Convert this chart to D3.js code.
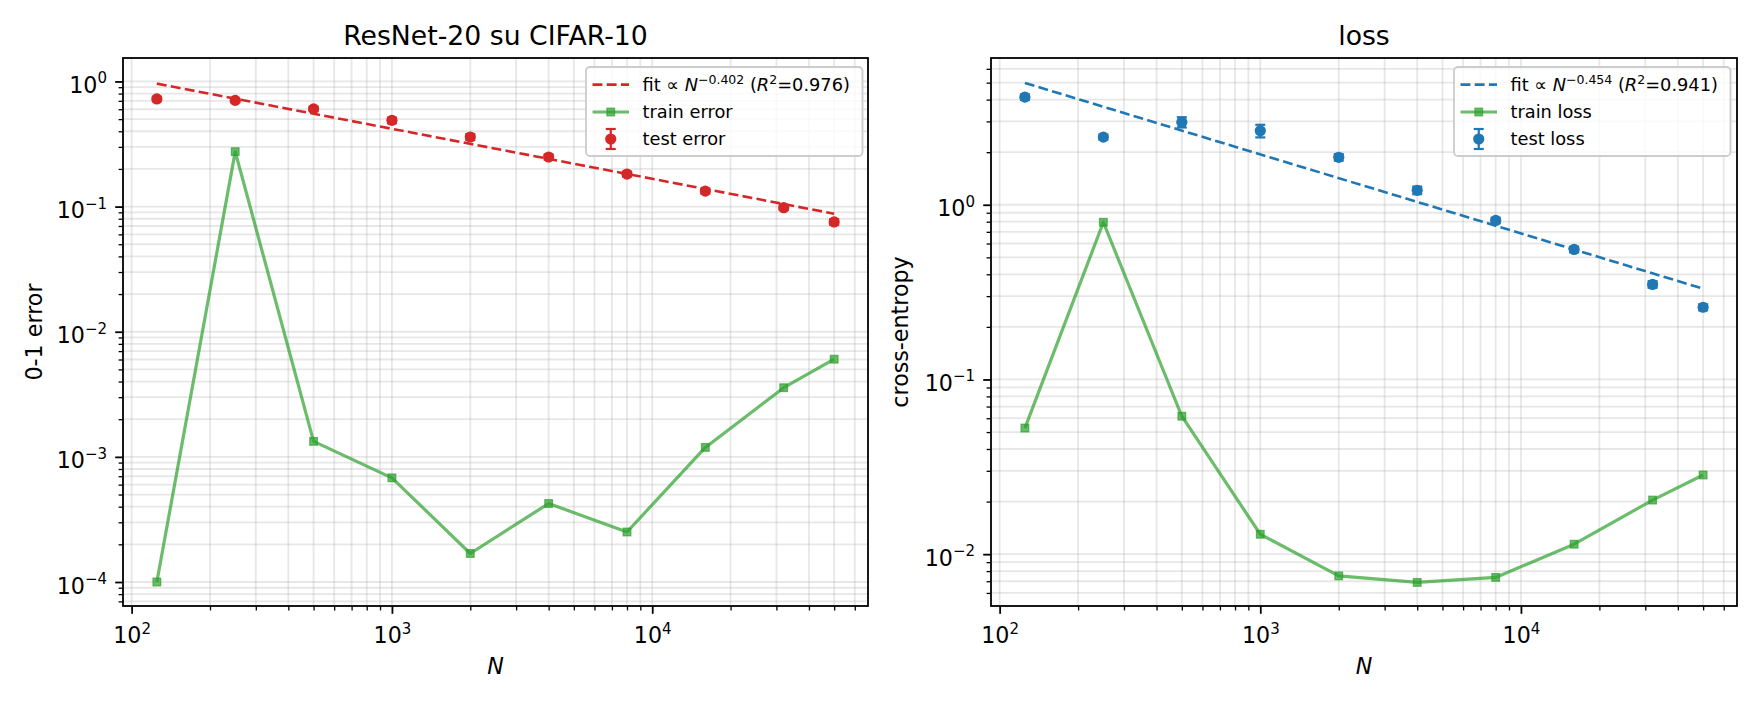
<!DOCTYPE html>
<html>
<head>
<meta charset="utf-8">
<script src="https://cdn.jsdelivr.net/npm/d3@7"></script>
<style>
  body { margin: 0; background: #fff; }
  text { font-family: "DejaVu Sans", sans-serif; fill: #000; }
</style>
</head>
<body>
<svg id="fig" width="1760" height="704"></svg>
<script>
// training set sizes (x values, shared by both panels)
var sizes = [125, 250, 500, 1000, 2000, 4000, 8000, 16000, 32000, 50000];

// left panel: 0-1 error
var testError   = [0.725, 0.706, 0.604, 0.489, 0.360, 0.249, 0.182, 0.133, 0.098, 0.0754];
var testErrorSe = [0.03, 0.02, 0.025, 0.025, 0.02, 0.012, 0.008, 0.006, 0.004, 0.004];
var trainError  = [1.0e-4, 0.275, 1.33e-3, 6.8e-4, 1.69e-4, 4.24e-4, 2.51e-4, 1.19e-3, 3.57e-3, 6.03e-3];
var errFitEnds  = [0.961, 0.0877];   // fit line at first / last N

// right panel: cross-entropy
var testLoss    = [4.13, 2.44, 2.97, 2.65, 1.87, 1.21, 0.813, 0.555, 0.350, 0.259];
var testLossSe  = [0.15, 0.08, 0.2, 0.22, 0.08, 0.06, 0.03, 0.02, 0.015, 0.01];
var trainLoss   = [0.0527, 0.794, 0.0616, 0.0130, 7.51e-3, 6.89e-3, 7.36e-3, 0.0114, 0.0204, 0.0284];
var lossFitEnds = [4.98, 0.331];

// axis ranges and tick labels
var xDomain     = [92.65, 67450];
var xTicks      = [100, 1000, 10000];
var errYDomain  = [6.43e-5, 1.54];
var errYTicks   = [1e-4, 1e-3, 1e-2, 1e-1, 1];
var lossYDomain = [5.05e-3, 6.92];
var lossYTicks  = [1e-2, 1e-1, 1];

var svg = d3.select('#fig');
var plotTop = 58, plotBottom = 606;
var FS = 22.2, SUP = 15, LFS = 17.8;
var green = '#2ca02c';

function expStr(v) {
  var e = Math.round(Math.log10(v));
  return (e < 0 ? '\u2212' : '') + Math.abs(e);
}

function powLabel(sel) {  // "10" with superscript exponent
  sel.text(null);
  sel.append('tspan').text('10');
  sel.append('tspan').attr('dy', -9.5).attr('font-size', SUP).text(function(d) { return expStr(d); });
}

var panels = [
  { left: 123, right: 868, yDomain: errYDomain, yTicks: errYTicks, title: 'ResNet-20 su CIFAR-10',
    ylabel: '0-1 error', ylabelX: 41.5, color: '#d62728', test: testError, testSe: testErrorSe,
    train: trainError, fit: errFitEnds, fitExp: '\u22120.402', r2: '0.976',
    trainLabel: 'train error', testLabel: 'test error', legendX: 586 },
  { left: 991, right: 1737, yDomain: lossYDomain, yTicks: lossYTicks, title: 'loss',
    ylabel: 'cross-entropy', ylabelX: 907.5, color: '#1f77b4', test: testLoss, testSe: testLossSe,
    train: trainLoss, fit: lossFitEnds, fitExp: '\u22120.454', r2: '0.941',
    trainLabel: 'train loss', testLabel: 'test loss', legendX: 1454 }
];

panels.forEach(function(p) {
  var x = d3.scaleLog().domain(xDomain).range([p.left, p.right]);
  var y = d3.scaleLog().domain(p.yDomain).range([plotBottom, plotTop]);
  var g = svg.append('g');

  // grid (major + minor)
  var xAll = x.ticks(), yAll = y.ticks();
  g.append('g').selectAll('line').data(xAll).join('line')
    .attr('x1', function(d) { return x(d); }).attr('x2', function(d) { return x(d); })
    .attr('y1', plotTop).attr('y2', plotBottom)
    .attr('stroke', '#b0b0b0').attr('stroke-opacity', 0.3).attr('stroke-width', 1.8);
  g.append('g').selectAll('line').data(yAll).join('line')
    .attr('y1', function(d) { return y(d); }).attr('y2', function(d) { return y(d); })
    .attr('x1', p.left).attr('x2', p.right)
    .attr('stroke', '#b0b0b0').attr('stroke-opacity', 0.3).attr('stroke-width', 1.8);

  // axes: minor ticks, then major ticks
  var isMajor = function(d) { return Math.abs(Math.log10(d) - Math.round(Math.log10(d))) < 1e-6; };
  var xMinor = xAll.filter(function(d) { return !isMajor(d); });
  var yMinor = yAll.filter(function(d) { return !isMajor(d); });

  var gx1 = g.append('g').attr('transform', 'translate(0,' + plotBottom + ')')
    .call(d3.axisBottom(x).tickValues(xMinor).tickSize(4.4).tickFormat(''));
  gx1.selectAll('line').attr('stroke-width', 1.3);
  var gx2 = g.append('g').attr('transform', 'translate(0,' + plotBottom + ')')
    .call(d3.axisBottom(x).tickValues(xTicks).tickSize(7.8).tickFormat(''));
  gx2.selectAll('line').attr('stroke-width', 1.8);
  gx2.selectAll('text').remove();
  gx2.selectAll('.tick').append('text')
    .attr('y', 37).attr('text-anchor', 'middle').attr('font-size', FS)
    .call(powLabel);

  var gy1 = g.append('g').attr('transform', 'translate(' + p.left + ',0)')
    .call(d3.axisLeft(y).tickValues(yMinor).tickSize(4.4).tickFormat(''));
  gy1.selectAll('line').attr('stroke-width', 1.3);
  var gy2 = g.append('g').attr('transform', 'translate(' + p.left + ',0)')
    .call(d3.axisLeft(y).tickValues(p.yTicks).tickSize(7.8).tickFormat(''));
  gy2.selectAll('line').attr('stroke-width', 1.8);
  gy2.selectAll('text').remove();
  gy2.selectAll('.tick').append('text')
    .attr('x', -16).attr('y', 11).attr('text-anchor', 'end').attr('font-size', FS)
    .call(powLabel);
  g.selectAll('.domain').remove();

  // fit line
  var line = d3.line().x(function(d) { return x(d[0]); }).y(function(d) { return y(d[1]); });
  var fitPts = [[sizes[0], p.fit[0]], [sizes[sizes.length - 1], p.fit[1]]];
  g.append('path').attr('d', line(fitPts)).attr('fill', 'none')
    .attr('stroke', p.color).attr('stroke-width', 2.6).attr('stroke-dasharray', '9.9,4.3');

  // train curve
  var trainPts = sizes.map(function(n, i) { return [n, p.train[i]]; });
  g.append('path').attr('d', line(trainPts)).attr('fill', 'none')
    .attr('stroke', green).attr('stroke-opacity', 0.7).attr('stroke-width', 3.2)
    .attr('stroke-linejoin', 'round');
  g.append('g').selectAll('rect').data(trainPts).join('rect')
    .attr('x', function(d) { return x(d[0]) - 3.8; }).attr('y', function(d) { return y(d[1]) - 3.8; })
    .attr('width', 7.6).attr('height', 7.6)
    .attr('fill', green).attr('fill-opacity', 0.7)
    .attr('stroke', green).attr('stroke-opacity', 0.7).attr('stroke-width', 1.3);

  // test points with error bars
  var testPts = sizes.map(function(n, i) { return [n, p.test[i], p.testSe[i]]; });
  var eb = g.append('g').selectAll('g').data(testPts).join('g').attr('stroke', p.color).attr('stroke-width', 2.2);
  eb.append('line')
    .attr('x1', function(d) { return x(d[0]); }).attr('x2', function(d) { return x(d[0]); })
    .attr('y1', function(d) { return y(d[1] + d[2]); }).attr('y2', function(d) { return y(d[1] - d[2]); });
  eb.append('line')
    .attr('x1', function(d) { return x(d[0]) - 5; }).attr('x2', function(d) { return x(d[0]) + 5; })
    .attr('y1', function(d) { return y(d[1] + d[2]); }).attr('y2', function(d) { return y(d[1] + d[2]); });
  eb.append('line')
    .attr('x1', function(d) { return x(d[0]) - 5; }).attr('x2', function(d) { return x(d[0]) + 5; })
    .attr('y1', function(d) { return y(d[1] - d[2]); }).attr('y2', function(d) { return y(d[1] - d[2]); });
  eb.append('circle')
    .attr('cx', function(d) { return x(d[0]); }).attr('cy', function(d) { return y(d[1]); })
    .attr('r', 5.6).attr('fill', p.color).attr('stroke', 'none');

  // frame
  g.append('rect').attr('x', p.left).attr('y', plotTop)
    .attr('width', p.right - p.left).attr('height', plotBottom - plotTop)
    .attr('fill', 'none').attr('stroke', '#000').attr('stroke-width', 1.8);

  // titles and labels
  var cx = (p.left + p.right) / 2;
  g.append('text').attr('x', cx).attr('y', 44.7).attr('text-anchor', 'middle')
    .attr('font-size', 26.7).text(p.title);
  g.append('text').attr('x', cx).attr('y', 674).attr('text-anchor', 'middle')
    .attr('font-size', FS).attr('font-style', 'italic').text('N');
  g.append('text').attr('transform', 'translate(' + p.ylabelX + ',' + ((plotTop + plotBottom) / 2) + ') rotate(-90)')
    .attr('text-anchor', 'middle').attr('font-size', FS).text(p.ylabel);

  // legend
  var lx = p.legendX, rows = [84.6, 112, 139];
  var lg = g.append('g');
  lg.append('rect').attr('x', lx).attr('y', 67).attr('width', 276.5).attr('height', 89)
    .attr('rx', 4).attr('fill', '#fff').attr('fill-opacity', 0.8)
    .attr('stroke', '#cccccc').attr('stroke-width', 1.8);
  var hx0 = lx + 6.5, hx1 = lx + 43, tx = lx + 56.5;
  lg.append('line').attr('x1', hx0).attr('x2', hx1).attr('y1', rows[0]).attr('y2', rows[0])
    .attr('stroke', p.color).attr('stroke-width', 2.6).attr('stroke-dasharray', '9.9,4.3');
  lg.append('line').attr('x1', hx0).attr('x2', hx1).attr('y1', rows[1]).attr('y2', rows[1])
    .attr('stroke', green).attr('stroke-opacity', 0.7).attr('stroke-width', 3.2);
  lg.append('rect').attr('x', (hx0 + hx1) / 2 - 3.8).attr('y', rows[1] - 3.8).attr('width', 7.6).attr('height', 7.6)
    .attr('fill', green).attr('fill-opacity', 0.7).attr('stroke', green).attr('stroke-opacity', 0.7).attr('stroke-width', 1.3);
  var hm = (hx0 + hx1) / 2;
  var eh = lg.append('g').attr('stroke', p.color).attr('stroke-width', 2.2);
  eh.append('line').attr('x1', hm).attr('x2', hm).attr('y1', rows[2] - 10).attr('y2', rows[2] + 10);
  eh.append('line').attr('x1', hm - 5).attr('x2', hm + 5).attr('y1', rows[2] - 10).attr('y2', rows[2] - 10);
  eh.append('line').attr('x1', hm - 5).attr('x2', hm + 5).attr('y1', rows[2] + 10).attr('y2', rows[2] + 10);
  lg.append('circle').attr('cx', hm).attr('cy', rows[2]).attr('r', 5.6).attr('fill', p.color);

  var t0 = lg.append('text').attr('x', tx).attr('y', rows[0] + 6.4).attr('font-size', LFS);
  t0.append('tspan').text('fit ');
  t0.append('tspan').text('\u221d ');
  t0.append('tspan').attr('font-style', 'italic').text('N');
  t0.append('tspan').attr('dy', -7.5).attr('font-size', 12.5).text(p.fitExp);
  t0.append('tspan').attr('dy', 7.5).text(' (');
  t0.append('tspan').attr('font-style', 'italic').text('R');
  t0.append('tspan').attr('dy', -7.5).attr('font-size', 12.5).text('2');
  t0.append('tspan').attr('dy', 7.5).text('=' + p.r2 + ')');
  lg.append('text').attr('x', tx).attr('y', rows[1] + 6.4).attr('font-size', LFS).text(p.trainLabel);
  lg.append('text').attr('x', tx).attr('y', rows[2] + 6.4).attr('font-size', LFS).text(p.testLabel);
});
</script>
</body>
</html>
